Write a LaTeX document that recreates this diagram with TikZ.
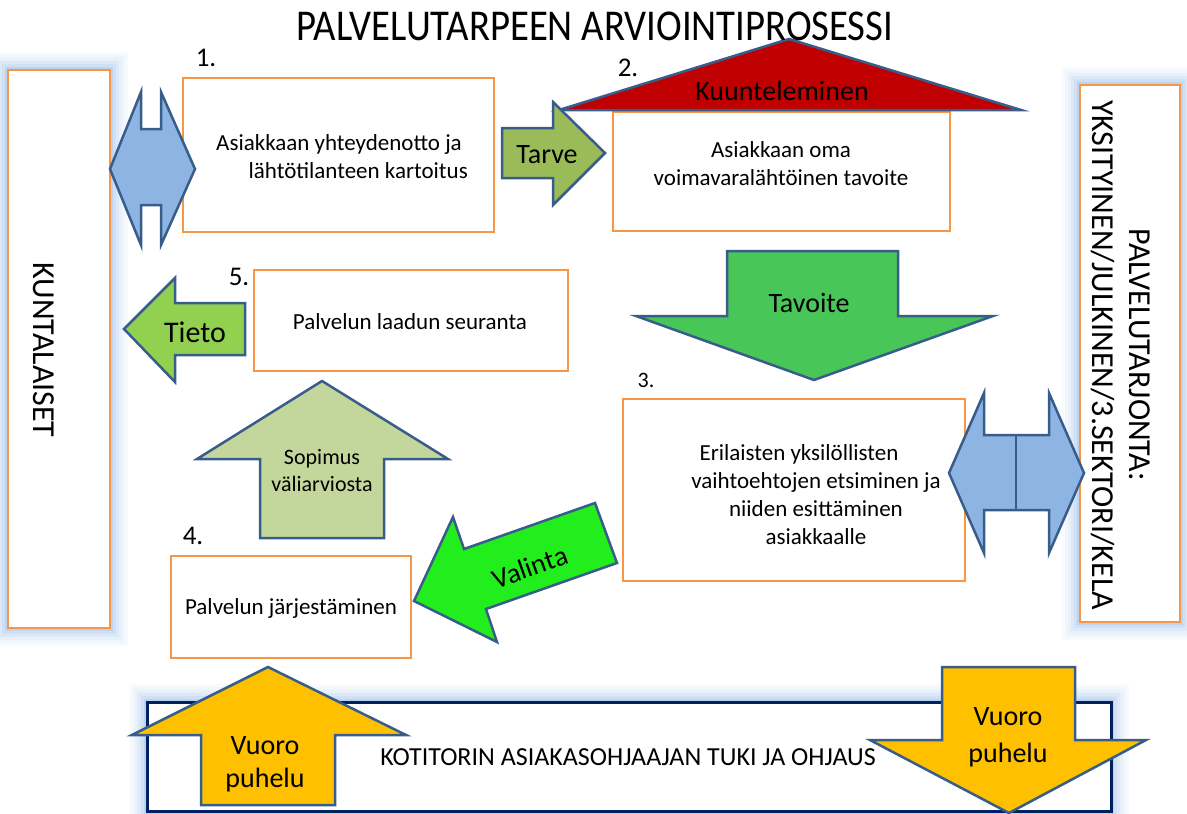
\documentclass[tikz,border=0pt]{standalone}
\usepackage{fontspec}
\setmainfont{Carlito}
\usepackage{graphicx}
\usepackage{tikz}

\definecolor{boxorange}{RGB}{247,150,70}
\definecolor{edgeblue}{RGB}{56,93,138}
\definecolor{glowblue}{RGB}{125,170,228}
\definecolor{navyedge}{RGB}{0,32,96}
\definecolor{skyfill}{RGB}{142,180,227}
\definecolor{olivefill}{RGB}{155,187,89}
\definecolor{redfill}{RGB}{192,0,0}
\definecolor{greenfill}{RGB}{72,198,88}
\definecolor{limefill}{RGB}{146,208,80}
\definecolor{sagefill}{RGB}{195,214,155}
\definecolor{brightgreen}{RGB}{34,238,30}
\definecolor{amberfill}{RGB}{255,192,0}

\tikzset{
  procbox/.style={draw=boxorange,line width=2.5pt,fill=white,inner sep=0pt},
  bigarrow/.style={draw=edgeblue,line width=2.5pt,line join=miter},
  boxtext/.style={font=\fontsize{23}{28}\selectfont,align=center,inner sep=0pt},
  arrowtext/.style={font=\fontsize{28}{34}\selectfont,align=center,inner sep=0pt},
  steplabel/.style={font=\fontsize{27}{30}\selectfont,inner sep=0pt},
}

\newcommand\glowrect[2]{%
  \foreach \w/\o in {36/0.05,30/0.06,24/0.08,18/0.1,12/0.14,6/0.22}{
    \path[draw=glowblue,line width=\w pt,draw opacity=\o] #1 rectangle #2;
  }}

\begin{document}
\begin{tikzpicture}[x=1pt,y=-1pt]
\useasboundingbox (0,0) rectangle (1187,814);
% glow behind the side and bottom boxes:
\glowrect{(8,70)}{(110,628)}
\glowrect{(1080,85)}{(1180,622)}
\glowrect{(147,702)}{(1111,811)}
% boxes:
\node[procbox,minimum width=102pt,minimum height=558pt] (kunta) at (59,349) {};
\node[procbox,minimum width=100pt,minimum height=537pt] (tarjonta) at (1130,353.5) {};
\node[draw=navyedge,line width=3pt,fill=white,inner sep=0pt,minimum width=964pt,minimum height=109pt] (tuki) at (629,756.5) {};
\node[procbox,minimum width=311pt,minimum height=154pt] (b1) at (338.5,155) {};
\node[procbox,minimum width=337pt,minimum height=119pt] (b2) at (781.5,171.5) {};
\node[procbox,minimum width=342pt,minimum height=182pt] (b3) at (794,490) {};
\node[procbox,minimum width=240pt,minimum height=102pt] (b4) at (291,607) {};
\node[procbox,minimum width=314pt,minimum height=101pt] (b5) at (411,320.5) {};
% arrows:
\path[bigarrow,fill=skyfill] (110,169) -- (141,92) -- (141,129) -- (161,129) -- (161,92) -- (195,169)
  -- (161,245) -- (161,205) -- (141,205) -- (141,245) -- cycle;
\path[bigarrow,fill=skyfill] (949,473) -- (984,393) -- (984,435) -- (1049,435) -- (1049,393) -- (1084,473)
  -- (1049,553) -- (1049,510) -- (984,510) -- (984,553) -- cycle;
\path[bigarrow] (1016,435) -- (1016,510);
\path[bigarrow,fill=redfill] (559,110) -- (789,39) -- (1021,110) -- cycle;
\path[bigarrow,fill=olivefill] (502,128) -- (553,128) -- (553,102) -- (605,153) -- (553,205) -- (553,178) -- (502,178) -- cycle;
\path[bigarrow,fill=greenfill] (727,251) -- (898,251) -- (898,316) -- (993,316) -- (814,380) -- (636,316) -- (727,316) -- cycle;
\path[bigarrow,fill=limefill] (124,329) -- (175,278) -- (175,303) -- (245,303) -- (245,355) -- (175,355) -- (175,382) -- cycle;
\path[bigarrow,fill=sagefill] (322,381) -- (448,459) -- (384,459) -- (384,538) -- (260,538) -- (260,459) -- (197,459) -- cycle;
\path[bigarrow,fill=brightgreen] (414,601) -- (453,517) -- (464,549) -- (595,503) -- (617,563) -- (486,609) -- (497,642) -- cycle;
\path[bigarrow,fill=amberfill] (268,667) -- (406,735) -- (335,735) -- (335,805) -- (201,805) -- (201,735) -- (132,735) -- cycle;
\path[bigarrow,fill=amberfill] (942,667) -- (1075,667) -- (1075,740) -- (1146,740) -- (1009,813) -- (870,740) -- (942,740) -- cycle;
% texts:
\node[inner sep=0pt] (title) at (595,26) {\fontsize{44}{48}\selectfont\scalebox{0.88}[1]{PALVELUTARPEEN ARVIOINTIPROSESSI}};
\node[rotate=-90,inner sep=0pt,font=\fontsize{32}{36}\selectfont] (kuntatext) at (44,350) {KUNTALAISET};
\node[rotate=-90,inner sep=0pt,align=center,font=\fontsize{32}{37}\selectfont] (tarjontatext) at (1121,355)
  {PALVELUTARJONTA:\\YKSITYINEN/JULKINEN/3.SEKTORI/KELA};
\node[inner sep=0pt,font=\fontsize{26}{30}\selectfont] (tukitext) at (628,757) {KOTITORIN ASIAKASOHJAAJAN TUKI JA OHJAUS};
\node[boxtext,align=right] (b1text) at (342,157) {Asiakkaan yhteydenotto ja\hspace*{6pt}\\lähtötilanteen kartoitus};
\node[boxtext] (b2text) at (781,164) {Asiakkaan oma\\voimavaralähtöinen tavoite};
\node[boxtext] (b3text) at (816,495) {Erilaisten yksilöllisten\hspace*{34pt}\\vaihtoehtojen etsiminen ja\\niiden esittäminen\\asiakkaalle};
\node[boxtext] (b4text) at (291,608) {Palvelun järjestäminen};
\node[boxtext] (b5text) at (410,322) {Palvelun laadun seuranta};
\node[arrowtext] (tarve) at (547,155) {Tarve};
\node[arrowtext] (kuuntelu) at (782,91) {Kuunteleminen};
\node[arrowtext] (tavoite) at (809,303) {Tavoite};
\node[arrowtext,font=\fontsize{30}{34}\selectfont] (tieto) at (195,332) {Tieto};
\node[arrowtext,font=\fontsize{22}{27}\selectfont] (sopimus) at (322,471) {Sopimus\\väliarviosta};
\node[arrowtext,rotate=19.5] (valinta) at (530,567) {Valinta};
\node[arrowtext,font=\fontsize{28}{33}\selectfont] (vuoro1) at (265,764) {Vuoro\\puhelu};
\node[arrowtext,font=\fontsize{28}{37}\selectfont] (vuoro2) at (1008,737) {Vuoro\\puhelu};
% step numbers:
\node[steplabel] (n1) at (206,58) {1.};
\node[steplabel] (n2) at (628,68) {2.};
\node[steplabel,font=\fontsize{22}{26}\selectfont] (n3) at (646,380) {3.};
\node[steplabel] (n4) at (193,536) {4.};
\node[steplabel] (n5) at (239,277) {5.};
\end{tikzpicture}
\end{document}
